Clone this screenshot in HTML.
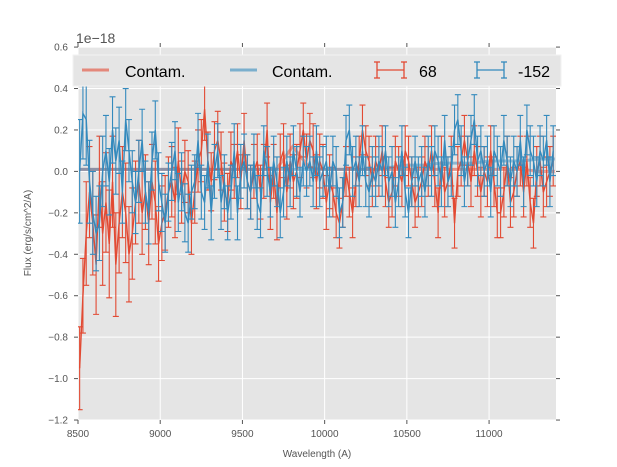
<!DOCTYPE html>
<html><head><meta charset="utf-8"><style>
body{margin:0;background:#fff;}
svg{display:block;font-family:"Liberation Sans","DejaVu Sans",sans-serif;}
</style></head><body>
<svg id="chart" width="617" height="467" viewBox="0 0 617 467" xmlns="http://www.w3.org/2000/svg">
<rect x="78" y="47" width="478" height="373" fill="#e5e5e5"/>
<g id="grid"></g><g id="marks"></g><g id="axes"></g>
<text x="76" y="43" font-size="14" fill="#555">1e−18</text>
<text x="317" y="457" font-size="10" fill="#555" text-anchor="middle">Wavelength (A)</text>
<text transform="translate(31,233) rotate(-90)" font-size="10" fill="#555" text-anchor="middle">Flux (erg/s/cm^2/A)</text>
<g>
<rect x="73" y="55" width="488" height="31" fill="#e5e5e5" stroke="#f2f2f2" stroke-width="1"/>
<line x1="82" y1="70" x2="109" y2="70" stroke="#E24A33" stroke-opacity="0.6" stroke-width="3"/>
<text x="125" y="77" font-size="16" fill="#000">Contam.</text>
<line x1="230" y1="70" x2="257" y2="70" stroke="#348ABD" stroke-opacity="0.6" stroke-width="3"/>
<text x="272" y="77" font-size="16" fill="#000">Contam.</text>
<g stroke="#E24A33" stroke-width="1.3"><line x1="377" y1="70" x2="404" y2="70"/><line x1="377" y1="62" x2="377" y2="78"/><line x1="404" y1="62" x2="404" y2="78"/><line x1="374" y1="62" x2="380" y2="62"/><line x1="374" y1="78" x2="380" y2="78"/><line x1="401" y1="62" x2="407" y2="62"/><line x1="401" y1="78" x2="407" y2="78"/></g>
<text x="419" y="77" font-size="16" fill="#000">68</text>
<g stroke="#348ABD" stroke-width="1.3"><line x1="477" y1="70" x2="504" y2="70"/><line x1="477" y1="62" x2="477" y2="78"/><line x1="504" y1="62" x2="504" y2="78"/><line x1="474" y1="62" x2="480" y2="62"/><line x1="474" y1="78" x2="480" y2="78"/><line x1="501" y1="62" x2="507" y2="62"/><line x1="501" y1="78" x2="507" y2="78"/></g>
<text x="518" y="77" font-size="16" fill="#000">-152</text>
</g>
</svg>
<script>
const xTicks=[8500,9000,9500,10000,10500,11000];
const yTicks=[0.6,0.4,0.2,0.0,-0.2,-0.4,-0.6,-0.8,-1.0,-1.2];
const waveStart=8510, waveStep=20;
const red68=[-95,-60,-30,-10,-25,-45,-5,-30,-15,-35,-5,-45,-25,-10,-20,-40,-30,-15,-5,-20,-10,-25,-5,-15,-35,-25,-20,-10,-5,-15,5,-10,0,-5,-25,-10,5,10,30,5,-5,10,15,5,-10,-15,5,0,10,-5,15,-5,-10,0,5,-10,0,20,-15,0,-20,5,10,-10,5,-5,0,10,20,5,15,10,-5,5,0,-15,-5,-10,-20,-25,-15,0,-10,-20,-5,5,20,10,5,-5,5,0,10,-5,-15,-10,5,0,-5,10,5,-5,-15,-10,-5,5,0,10,-5,-20,5,-10,-5,5,-25,0,5,15,5,-5,10,0,-10,0,-5,10,-5,-20,-20,-10,5,-15,-10,0,5,-10,5,-15,-25,0,5,-10,-5,0,5];
const red68Err=[20,18,25,22,25,24,22,25,24,26,22,25,24,22,24,23,22,20,20,20,18,20,18,20,18,18,18,17,17,17,16,15,15,15,15,15,15,15,15,14,14,14,14,14,14,14,14,13,13,13,13,13,13,13,13,13,13,13,13,13,13,13,13,13,13,13,13,13,13,13,13,13,13,13,13,13,13,12,12,12,12,12,12,12,12,12,12,12,12,12,12,12,12,12,12,12,12,12,12,12,12,12,12,12,12,12,12,12,12,12,12,12,12,12,12,12,12,12,12,12,12,12,12,12,12,12,12,12,12,12,12,12,12,12,12,12,12,12,12,12,12,12,12,12,12];
const blue152=[0,28,25,-5,-20,-30,-25,0,10,-5,20,5,15,-10,25,10,-5,-15,0,15,-10,-20,5,20,-5,-15,-25,-10,0,10,-15,-5,-20,-25,-10,-5,15,-10,-15,5,-20,0,10,-15,-5,-20,-10,10,-20,0,5,-5,-10,5,-15,-20,10,0,-10,5,-5,-20,-10,5,-5,10,0,-10,5,0,5,-5,10,-5,0,5,-10,5,0,-20,-15,15,20,0,5,-5,10,-5,-10,0,-5,5,0,10,-5,0,-15,-5,10,-10,-20,-5,5,-5,0,-10,5,0,10,5,-5,15,-5,0,20,25,10,-5,5,15,25,5,10,0,5,-10,10,5,0,15,5,-5,5,0,15,-5,20,10,5,-5,10,5,15,-5,10,5,0];
const blue152Err=[25,22,22,20,20,18,18,17,17,16,16,16,16,15,15,15,15,15,15,15,15,15,14,14,14,14,14,14,14,14,14,14,14,14,13,13,13,13,13,13,13,13,13,13,13,13,13,13,13,13,13,13,13,13,13,12,12,12,12,12,12,12,12,12,12,12,12,12,12,12,12,12,12,12,12,12,12,12,12,12,12,12,12,12,12,12,12,12,12,12,12,12,12,12,12,12,12,12,12,12,12,12,12,12,12,12,12,12,12,12,12,12,12,12,12,12,12,12,12,12,12,12,12,12,12,12,12,12,12,12,12,12,12,12,12,12,12,12,12,12,12,12,12,12,12];
const contamRed=[1,1,1,1,1,1,1,1,1,1,1,1,1,12,2,1,1,1,1,1,1,1,1,1,1,1,1,1,0,0];
const contamBlue=[1,1,1,1,1,1,1,1,1,1,1,1,1,1,1,1,1,1,1,2,3,3,4,4,4,5,5,5,6,6];
const NS="http://www.w3.org/2000/svg";
function X(w){return 78+(w-8500)*478/2907;}
function Y(v){return 171.4-v*41.44/0.2;}
function mk(t,a,p){const e=document.createElementNS(NS,t);for(const k in a)e.setAttribute(k,a[k]);p.appendChild(e);return e;}
const grid=document.getElementById('grid'),axes=document.getElementById('axes'),marks=document.getElementById('marks');
xTicks.forEach(t=>{const x=X(t);
const g=mk('line',{x1:x,y1:47,x2:x,y2:420,stroke:'#fff','stroke-width':1},grid);

mk('line',{x1:x,y1:420,x2:x,y2:424,stroke:'#555'},axes);
mk('line',{x1:x,y1:47,x2:x,y2:43,stroke:'#555'},axes);
const l=mk('text',{x:x,y:437,'font-size':10,fill:'#555','text-anchor':'middle'},axes);l.textContent=t;
});
yTicks.forEach(t=>{const y=Y(t);
const g=mk('line',{x1:78,y1:y,x2:556,y2:y,stroke:'#fff','stroke-width':1},grid);

mk('line',{x1:74,y1:y,x2:78,y2:y,stroke:'#555'},axes);
mk('line',{x1:556,y1:y,x2:560,y2:y,stroke:'#555'},axes);
const l=mk('text',{x:68,y:y+3.5,'font-size':10,fill:'#555','text-anchor':'end'},axes);l.textContent=(t<0?'−':'')+Math.abs(t).toFixed(1);
});
function contam(arr,color,name){const n=arr.length;let d='';
arr.forEach((v,i)=>{const w=8510+i*2890/(n-1);d+=(i?'L':'M')+X(w)+','+Y(v/100)+' ';});
const p=mk('path',{d:d,fill:'none',stroke:color,'stroke-opacity':0.5,'stroke-width':3},marks);
}
function series(vals,errs,color,name){const n=Math.min(vals.length,errs.length);const g=mk('g',{stroke:color,'stroke-width':1.1,fill:'none'},marks);
let d='';
for(let i=0;i<n;i++){const x=X(waveStart+i*waveStep),y=Y(vals[i]/100),y1=Y((vals[i]+errs[i])/100),y2=Y((vals[i]-errs[i])/100);
const e=mk('path',{d:`M${x},${y1}L${x},${y2}M${x-3},${y1}L${x+3},${y1}M${x-3},${y2}L${x+3},${y2}`},g);

d+=(i?'L':'M')+x+','+y;}
const p=mk('path',{d:d,'stroke-width':1.4},g);}
contam(contamRed,'#E24A33','contam-red-line');
contam(contamBlue,'#348ABD','contam-blue-line');
series(red68,red68Err,'#E24A33','series-68');
series(blue152,blue152Err,'#348ABD','series-minus152');
// clip overflow
const cp=mk('clipPath',{id:'cp'},document.getElementById('chart'));mk('rect',{x:78,y:47,width:478,height:373},cp);
marks.setAttribute('clip-path','url(#cp)');
</script>
</body></html>
